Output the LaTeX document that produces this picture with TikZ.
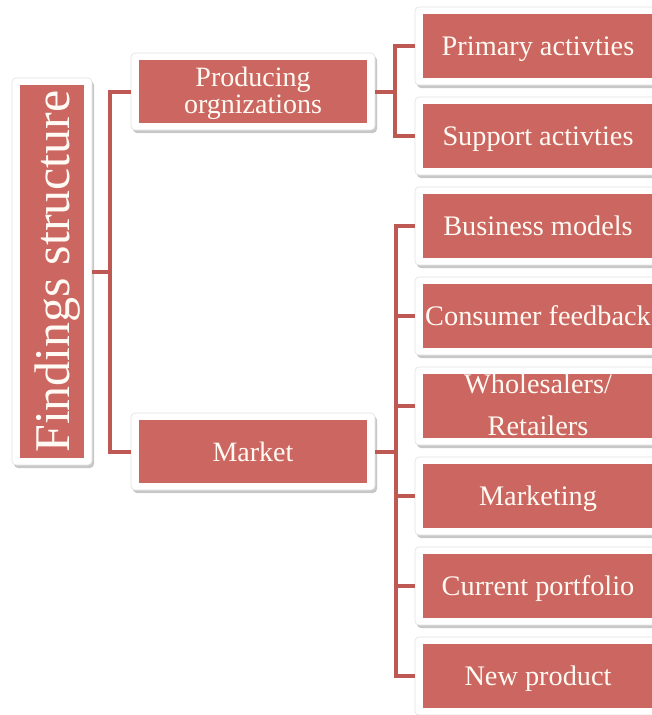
\documentclass[tikz,border=0pt]{standalone}
\usepackage{fontspec}
\setmainfont{Liberation Serif}
\usepackage{graphicx}
\usetikzlibrary{shadows}

\definecolor{boxred}{RGB}{204,102,96}
\definecolor{linkred}{RGB}{190,88,82}
\definecolor{boxtext}{RGB}{255,251,244}

% two centred lines, first baseline raised by #1
\newcommand{\stacked}[2]{\smash{\raisebox{#1}{\begin{tabular}[t]{@{}c@{}}#2\end{tabular}}}}

\tikzset{
  frame/.style={fill=white, draw=black!12, line width=0.6pt, rounded corners=4pt, inner sep=0pt,
    text=boxtext, align=center,
    drop shadow={shadow xshift=2pt, shadow yshift=-3pt, opacity=0.4, fill=black!55},
    path picture={\fill[boxred, sharp corners] ([shift={(8pt,7pt)}]path picture bounding box.south west) rectangle ([shift={(-8pt,-7pt)}]path picture bounding box.north east);}},
  rootbox/.style={frame, minimum width=80pt, minimum height=387pt, font=\fontsize{50}{60}\selectfont},
  midbox/.style={frame, minimum width=244pt, minimum height=77pt, text height=19pt, text depth=0pt,
    font=\fontsize{28}{33}\selectfont},
  leafbox/.style={frame, minimum width=246pt, minimum height=78pt, text height=19pt, text depth=0pt,
    font=\fontsize{28.3}{33}\selectfont},
  link/.style={draw=linkred, line width=4pt},
}

\begin{document}
\begin{tikzpicture}[x=1pt, y=-1pt]
\useasboundingbox (0,0) rectangle (652,715);

% ROOT
\node[rootbox] (root) at (52,271.5) {\rotatebox{90}{\raisebox{0pt}[34pt][0pt]{Findings structure}}};

% SECOND LEVEL
\node[midbox] (prod) at (253,91.5) {\stacked{15pt}{Producing\\[-6pt]orgnizations}};
\node[midbox] (mkt) at (253,451.5) {Market};

% LEAVES OF PRODUCING
\node[leafbox] (pa) at (538,46) {Primary activties};
\node[leafbox] (sa) at (538,136) {Support activties};

% LEAVES OF MARKET
\node[leafbox] (bm) at (538,226) {Business models};
\node[leafbox] (cf) at (538,316) {Consumer feedback};
\node[leafbox] (wr) at (538,406) {\stacked{22.5pt}{Wholesalers/\\[9pt]Retailers}};
\node[leafbox] (mk) at (538,496) {Marketing};
\node[leafbox] (cp) at (538,586) {Current portfolio};
\node[leafbox] (np) at (538,676) {New product};

% CONNECTORS
\draw[link] (prod.west) -- ++(-21,0) coordinate (rootbus) |- (mkt.west);
\draw[link] (root.east) -- (root.east -| rootbus);

\draw[link] (pa.west) -- ++(-20,0) coordinate (prodbus) |- (sa.west);
\draw[link] (prod.east) -- (prod.east -| prodbus);

\draw[link] (bm.west) -- ++(-19,0) coordinate (mktbus) |- (np.west);
\draw[link] (cf.west) -- (cf.west -| mktbus);
\draw[link] (wr.west) -- (wr.west -| mktbus);
\draw[link] (mk.west) -- (mk.west -| mktbus);
\draw[link] (cp.west) -- (cp.west -| mktbus);
\draw[link] (mkt.east) -- (mkt.east -| mktbus);
\end{tikzpicture}
\end{document}
